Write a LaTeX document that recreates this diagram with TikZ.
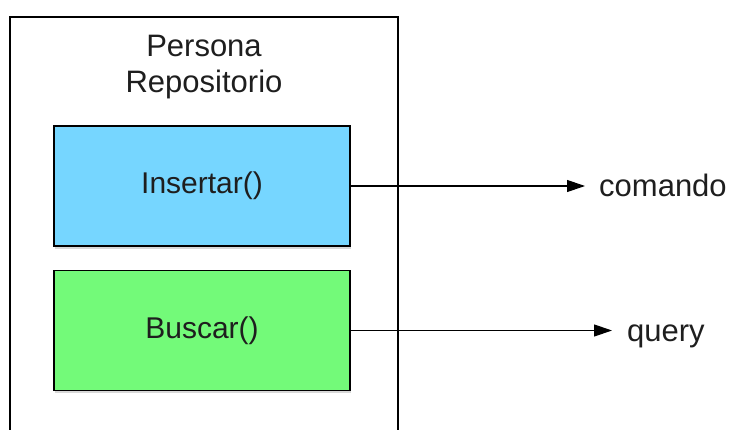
\documentclass[tikz,border=0pt]{standalone}
\usepackage{fontspec}
\setmainfont{Liberation Sans}
\usetikzlibrary{arrows.meta,shadows}
\definecolor{boxblue}{HTML}{76D6FF}
\definecolor{boxgreen}{HTML}{73FA79}
\definecolor{txt}{HTML}{1E1E1E}
\tikzset{
  frame/.style={draw=black, line width=1.3pt, fill=white,
    drop shadow={shadow xshift=1pt, shadow yshift=-1.5pt, opacity=0.25}},
  method/.style={draw=black, line width=1.3pt, minimum width=296pt, minimum height=120pt,
    inner sep=0pt, font=\fontsize{30}{36}\selectfont, text=txt,
    drop shadow={shadow xshift=1pt, shadow yshift=-2.5pt, opacity=0.3}},
  outlbl/.style={inner sep=0pt, anchor=base west, font=\fontsize{31}{36}\selectfont, text=txt},
  flow/.style={line width=1.2pt, -{Triangle[length=18pt,width=12pt]}}
}
\begin{document}
\begin{tikzpicture}[x=1pt,y=-1pt]
\useasboundingbox (0,0) rectangle (735,430);
\clip (0,0) rectangle (735,430);
\node[frame, minimum width=388pt, minimum height=440pt, inner sep=0pt] (repo) at (204,237) {};
\node[align=center, inner sep=0pt, text=txt, font=\fontsize{31}{36}\selectfont] (title) at (204,67) {Persona\\Repositorio};
\node[method, fill=boxblue] (ins) at (202,186) {Insertar()};
\node[method, fill=boxgreen] (bus) at (202,330.5) {Buscar()};
\node[outlbl] (cmd) at (599,196.5) {comando};
\node[outlbl] (qry) at (627,341) {query};
\draw[flow, shorten >=14pt] (ins.east) -- (ins.east -| cmd.west);
\draw[flow, shorten >=15pt] (bus.east) -- (bus.east -| qry.west);
\end{tikzpicture}
\end{document}
